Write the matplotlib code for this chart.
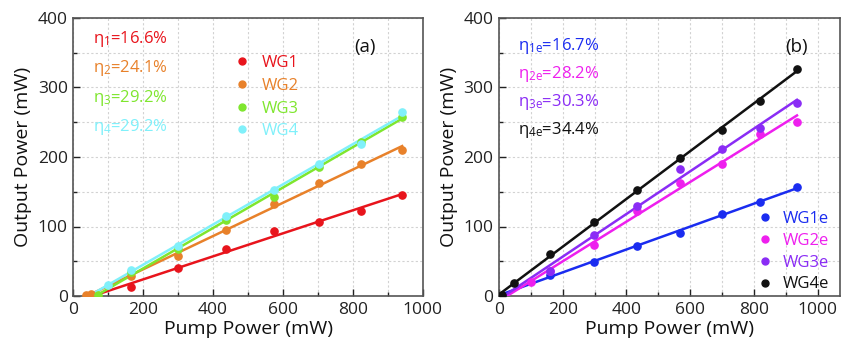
import numpy as np
import matplotlib
matplotlib.use("Agg")
import matplotlib.pyplot as plt
from matplotlib.ticker import MultipleLocator
from matplotlib.lines import Line2D

plt.rcParams['font.family'] = ['Open Sans', 'DejaVu Sans']
plt.rcParams['mathtext.fontset'] = 'custom'
plt.rcParams['mathtext.rm'] = 'Open Sans'

# ---------------- Data: panel (a) ----------------
a_labels = ["WG1", "WG2", "WG3", "WG4"]
a_colors = ["#e8141c", "#e8812a", "#7fe62e", "#80f0fa"]
a_eta = ["16.6%", "24.1%", "29.2%", "29.2%"]
a_sub = ["1", "2", "3", "4"]

wg1_x = [165, 300, 438, 573, 703, 824, 941]
wg1_y = [13, 40, 68, 93, 107, 122, 146]
wg2_x = [36, 52, 165, 300, 438, 573, 703, 824, 941]
wg2_y = [1, 3, 29, 57, 95, 132, 163, 190, 210]
wg3_x = [70, 165, 300, 438, 573, 703, 824, 941]
wg3_y = [1, 34, 68, 109, 142, 186, 222, 258]
wg4_x = [100, 165, 300, 438, 573, 703, 824, 941]
wg4_y = [16, 37, 72, 115, 153, 190, 219, 265]

# ---------------- Data: panel (b) ----------------
b_labels = ["WG1e", "WG2e", "WG3e", "WG4e"]
b_colors = ["#1a2cf0", "#ee1fee", "#8a2cf5", "#111111"]
b_eta = ["16.7%", "28.2%", "30.3%", "34.4%"]
b_sub = ["1e", "2e", "3e", "4e"]

wg1e_x = [160, 298, 433, 569, 699, 819, 935]
wg1e_y = [30, 49, 72, 91, 118, 135, 157]
wg2e_x = [99, 160, 298, 433, 569, 699, 819, 935]
wg2e_y = [20, 36, 73, 123, 162, 190, 233, 251]
wg3e_x = [160, 298, 433, 569, 699, 819, 935]
wg3e_y = [36, 88, 130, 183, 212, 242, 277]
wg4e_x = [8, 47, 160, 298, 433, 569, 699, 819, 935]
wg4e_y = [1, 18, 61, 106, 153, 199, 239, 281, 326]

a_series = [(wg1_x, wg1_y), (wg2_x, wg2_y), (wg3_x, wg3_y), (wg4_x, wg4_y)]
b_series = [(wg1e_x, wg1e_y), (wg2e_x, wg2e_y), (wg3e_x, wg3e_y), (wg4e_x, wg4e_y)]

fig = plt.figure(figsize=(8.41, 3.46), dpi=100)
axA = fig.add_axes([73.3 / 841, 50 / 346, 349.5 / 841, 278 / 346])
axB = fig.add_axes([499 / 841, 50 / 346, 341 / 841, 278 / 346])


def style(ax, xmax):
    ax.set_xlim(0, xmax)
    ax.set_ylim(0, 400)
    ax.xaxis.set_major_locator(MultipleLocator(200))
    ax.xaxis.set_minor_locator(MultipleLocator(100))
    ax.yaxis.set_major_locator(MultipleLocator(100))
    ax.yaxis.set_minor_locator(MultipleLocator(50))
    ax.grid(True, which='both', color='#d2d2d2', linestyle=(0, (2, 2)), linewidth=0.8)
    ax.set_axisbelow(True)
    ax.tick_params(which='both', direction='in', top=False, right=False,
                   labelsize=12.5, colors='#222222', pad=4)
    ax.tick_params(which='major', length=5, width=1)
    ax.tick_params(which='minor', length=3, width=1)
    for s in ax.spines.values():
        s.set_color('#555555')
        s.set_linewidth(1.2)
    ax.set_xlabel('Pump Power (mW)', fontsize=14, labelpad=2, color='#111111')
    ax.set_ylabel('Output Power (mW)', fontsize=14, labelpad=4, color='#111111')


def draw(ax, series, colors):
    for (x, y), c in zip(series, colors):
        x = np.asarray(x, float)
        y = np.asarray(y, float)
        k, b = np.polyfit(x, y, 1)
        x0 = max(-b / k, 0)
        xs = np.array([x0, x.max()])
        ax.plot(xs, k * xs + b, color=c, lw=1.8, zorder=3)
        ax.plot(x, y, 'o', color=c, ms=5.2, mec=c, zorder=4)


style(axA, 1000)
style(axB, 1070)
draw(axA, a_series, a_colors)
draw(axB, b_series, b_colors)

# efficiency labels
for i, (c, e, s) in enumerate(zip(a_colors, a_eta, a_sub)):
    axA.text(0.056, 0.926 - i * 0.106, r'$\mathregular{\eta_{%s}}$=%s' % (s, e),
             transform=axA.transAxes, color=c, fontsize=12, va='center', ha='left')
for i, (c, e, s) in enumerate(zip(b_colors, b_eta, b_sub)):
    axB.text(0.055, 0.90 - i * 0.101, r'$\mathregular{\eta_{%s}}$=%s' % (s, e),
             transform=axB.transAxes, color=c, fontsize=12, va='center', ha='left')

axA.text(0.805, 0.895, '(a)', transform=axA.transAxes, fontsize=13.5, va='center', color='#111111')
axB.text(0.84, 0.895, '(b)', transform=axB.transAxes, fontsize=13.5, va='center', color='#111111')

# legends
hA = [Line2D([], [], ls='none', marker='o', color=c, ms=5) for c in a_colors]
legA = axA.legend(hA, a_labels, loc='upper left', bbox_to_anchor=(0.44, 0.89),
                  frameon=False, fontsize=12, handlelength=1.0, handletextpad=0.7,
                  labelspacing=0.4, borderaxespad=0)
for t, c in zip(legA.get_texts(), a_colors):
    t.set_color(c)

hB = [Line2D([], [], ls='none', marker='o', color=c, ms=5) for c in b_colors]
legB = axB.legend(hB, b_labels, loc='upper left', bbox_to_anchor=(0.735, 0.33),
                  frameon=False, fontsize=12, handlelength=1.0, handletextpad=0.6,
                  labelspacing=0.35, borderaxespad=0)
for t, c in zip(legB.get_texts(), b_colors):
    t.set_color(c)

fig.savefig('out.png', dpi=100)
